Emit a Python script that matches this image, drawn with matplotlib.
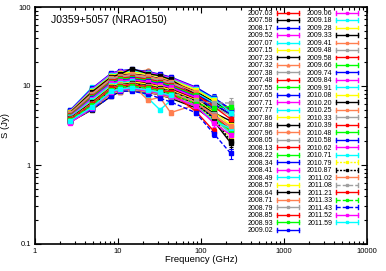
import numpy as np
import matplotlib
matplotlib.use('Agg')
import matplotlib.pyplot as plt
from matplotlib.lines import Line2D
from matplotlib.legend_handler import HandlerLine2D
from matplotlib.ticker import LogLocator, NullFormatter

plt.rcParams['font.family'] = ['Liberation Sans', 'DejaVu Sans']

nan = np.nan

# observing frequencies (GHz)
freqs = [2.64, 4.85, 8.35, 10.45, 14.6, 23.05, 32.0, 43.0, 86.2, 142.3, 228.4]

# epochs, in legend order
epochs = ['2007.03', '2007.58', '2008.17', '2009.52', '2007.07', '2007.15', '2007.23', '2007.32', '2007.38', '2007.48',
          '2007.55', '2007.65', '2007.71', '2007.77', '2007.86', '2007.88', '2007.96', '2008.05', '2008.13', '2008.22',
          '2008.34', '2008.41', '2008.49', '2008.57', '2008.64', '2008.71', '2008.79', '2008.85', '2008.93', '2009.02',
          '2009.06', '2009.18', '2009.28', '2009.33', '2009.41', '2009.48', '2009.58', '2009.66', '2009.74', '2009.84',
          '2009.91', '2010.08', '2010.20', '2010.25', '2010.33', '2010.39', '2010.48', '2010.58', '2010.62', '2010.71',
          '2010.79', '2010.87', '2011.02', '2011.08', '2011.21', '2011.33', '2011.43', '2011.52', '2011.59']

# flux density (Jy) per frequency, one value per epoch
s_2_64 = [4.0, 4.3, 4.8, 3.7, 4.9, 4.0, 4.1, 4.1, 4.2, 4.2,
          4.3, 4.4, 4.4, 4.5, 4.5, 4.5, 4.6, 4.7, 4.8, 4.8,
          4.9, 4.8, 4.7, 4.7, 4.6, 4.5, 4.4, 4.3, 4.2, 4.1,
          4.1, 4.0, 3.9, 3.9, 3.8, 3.8, 3.7, 3.7, 3.6, 3.6,
          3.6, 3.5, 3.5, 3.5, 3.6, 3.6, 3.6, 3.7, 3.6, 3.6,
          3.7, 3.7, 3.8, 3.8, 3.8, 3.7, 3.5, 3.4, 3.6]
s_4_85 = [6.6, 7.4, 8.9, 5.7, 9.6, 6.5, 6.7, 6.9, 7.0, 7.2,
          7.3, 7.6, 7.7, 7.9, 8.0, 8.2, 8.5, 8.8, 8.9, 9.1,
          9.3, 9.1, 8.8, 8.6, 8.4, 8.0, 7.7, 7.4, 7.2, 7.0,
          6.9, 6.6, 6.3, 6.2, 6.0, 5.8, 5.7, 5.6, 5.5, 5.3,
          5.2, 5.1, 5.0, 5.1, 5.2, 5.3, 5.4, 5.5, 5.5, 5.3,
          5.6, 5.7, 5.9, 6.0, 5.9, 5.7, 5.1, 5.3, 5.4]
s_8_35 = [10.4, 11.7, 14.0, 9.0, 10.6, 10.2, 10.6, 10.8, 11.1, 11.3,
          11.5, 12.0, 12.2, 12.4, 12.6, 12.9, 13.3, 13.8, 14.0, 14.2,
          14.6, 14.3, 13.9, 13.5, 13.1, 12.6, 12.2, 11.7, 11.3, 11.0,
          10.8, 10.4, 9.9, 9.7, 9.5, 9.2, 9.0, 8.8, 8.6, 8.5,
          8.3, 8.1, 7.5, 8.0, 8.2, 8.4, 8.6, 8.7, 8.6, 8.5,
          8.8, 9.0, 9.3, 9.5, 9.4, 9.0, 7.4, 8.4, 8.6]
s_10_45 = [11.0, 12.5, 14.9, 9.6, 10.8, 10.8, 11.3, 11.5, 11.8, 12.1,
           12.3, 12.8, 13.0, 13.2, 13.4, 13.7, 14.2, 14.7, 15.0, 15.2,
           15.6, 15.3, 14.8, 14.4, 14.0, 13.4, 13.0, 12.5, 12.1, 11.7,
           11.5, 11.0, 10.6, 10.4, 10.1, 9.8, 9.6, 9.4, 9.2, 9.0,
           8.8, 8.6, 8.4, 8.5, 8.7, 8.9, 9.1, 9.3, 9.2, 9.0,
           9.4, 9.6, 9.9, 10.2, 10.0, 9.6, 8.6, 8.9, 9.1]
s_14_6 = [11.5, 13.0, 15.5, 10.0, 11.0, 11.3, 11.8, 12.0, 12.3, 12.6,
          12.8, 13.3, 13.5, 13.8, 14.0, 14.3, 14.8, 15.3, 15.6, 15.8,
          16.2, 15.9, 15.4, 15.0, 16.6, 14.0, 13.5, 13.0, 12.6, 12.2,
          12.0, 11.5, 11.0, 10.8, 10.5, 10.2, 10.0, 9.8, 9.6, 9.4,
          9.2, 9.0, 8.8, 8.9, 9.1, 9.3, 9.5, 9.7, 9.6, 9.4,
          9.8, 10.0, 10.3, 10.6, 10.4, 10.0, 8.6, 9.3, 9.5]
s_23_05 = [10.8, 12.2, 14.6, 9.4, 10.3, 10.6, 11.1, 11.3, 11.6, 11.8,
           12.0, 12.5, 12.7, 13.0, 13.2, 13.4, 16.0, 14.4, 14.7, 14.9,
           15.2, 14.9, 14.5, 14.1, 14.3, 13.2, 12.7, 12.2, 11.8, 11.5,
           11.3, 7.0, 10.3, 10.2, 6.6, 9.6, 9.4, 9.2, 9.0, 8.8,
           8.6, 8.5, 8.3, 8.4, 8.6, 8.7, 8.9, 9.1, 9.0, 8.8,
           9.2, 9.4, 9.7, 10.0, 9.8, 9.4, 7.9, 8.7, 8.9]
s_32 = [10.0, 11.3, 13.5, 8.7, 9.6, 9.8, 10.3, 10.4, 10.7, 11.0,
        11.1, 11.6, 11.7, 12.0, 12.2, 12.4, 12.9, 13.3, 13.6, 13.7,
        14.1, 13.8, 13.4, 13.1, 13.5, 12.2, 11.7, 11.3, 11.0, 10.6,
        10.4, 5.0, 9.6, 9.4, 7.2, 8.9, 8.7, 8.5, 8.4, 8.2,
        8.0, 7.8, 7.7, 7.7, 7.9, 8.1, 8.3, 8.4, 8.4, 8.2,
        8.5, 8.7, 9.0, 9.2, 9.0, 8.7, 7.0, 8.1, 8.3]
s_43 = [9.2, 10.4, 12.4, 8.0, 8.8, 9.0, 9.4, 9.6, 9.8, 10.1,
        10.2, 10.6, 10.8, 11.0, 11.2, 11.4, 11.8, 12.2, 12.5, 12.6,
        13.0, 12.7, 12.3, 12.0, 12.1, 11.2, 10.8, 10.4, 10.1, 9.8,
        9.6, 6.5, 8.8, 8.6, 4.6, 8.2, 8.0, 7.8, 7.7, 7.5,
        7.4, 7.2, 7.0, 7.1, 7.3, 7.4, 7.6, 7.8, 7.7, 7.5,
        7.8, 8.0, 8.2, 8.5, 8.3, 8.0, 6.3, 7.4, 7.6]
s_86 = [6.9, 7.8, 9.3, 6.0, nan, nan, 7.1, 7.2, 7.4, 7.6,
        nan, 8.0, 8.1, 8.3, nan, 8.6, 8.9, 9.2, 9.4, nan,
        9.7, 9.5, 9.2, 9.0, 7.8, 8.4, nan, 7.8, 7.6, 7.3,
        7.2, nan, 6.6, 6.5, 5.8, 6.1, 6.0, nan, 5.8, 5.6,
        5.5, 5.4, 5.3, nan, 5.5, 5.6, 5.7, 5.8, 5.8, 5.6,
        5.9, 6.0, 6.2, 6.4, 4.8, 6.0, 4.6, 5.6, nan]
s_142 = [5.2, 5.9, 7.0, nan, nan, nan, 5.3, nan, 5.5, 5.7,
         nan, 6.0, nan, 6.2, nan, 6.4, 6.7, nan, 7.0, nan,
         7.1, nan, 6.9, 6.6, 4.6, nan, nan, 5.5, nan, 5.2,
         nan, nan, 4.7, 4.5, nan, 4.4, 4.2, nan, 4.0, nan,
         3.8, 3.7, 3.6, nan, 3.8, nan, 4.0, 4.1, nan, 3.6,
         3.8, 3.9, 4.2, 6.1, 2.7, 5.3, 2.5, 3.4, nan]
s_228 = [nan, 4.3, 5.0, nan, nan, nan, nan, nan, 4.2, nan,
         nan, 4.4, nan, nan, nan, 4.7, nan, nan, 4.9, nan,
         5.1, nan, 4.6, nan, 3.6, nan, nan, 3.8, nan, nan,
         nan, nan, 3.2, nan, nan, 3.0, 2.8, nan, nan, nan,
         2.5, nan, 1.9, nan, 2.6, nan, 2.7, nan, nan, 2.9,
         2.2, 2.0, 3.1, 6.1, nan, 5.5, 1.4, 2.4, nan]

# relative flux error (%) per frequency
err_pct = [2, 2, 2, 3, 3, 4, 5, 7, 6, 10, 15]

table = np.array([s_2_64, s_4_85, s_8_35, s_10_45, s_14_6, s_23_05,
                  s_32, s_43, s_86, s_142, s_228]).T
f_arr = np.array(freqs)
e_arr = np.array(err_pct) / 100.0

# gnuplot-like line colours
cycle = ['#ff00ff', '#00ffff', '#ffff00', '#000000', '#ff7f50',
         '#a0a0a0', '#ff0000', '#00ff00', '#0000ff']
colors = ['#ff0000', '#000000', '#0000ff'] + [cycle[(i - 3) % 9] for i in range(3, len(epochs))]
markers = ['s'] * len(epochs)
for i, m in {7: '^', 9: 'v', 11: 'o', 15: 'o', 16: 'o', 21: 'o'}.items():
    markers[i] = m
lstyles = ['-'] * len(epochs)
for ep in ['2010.79', '2010.87']:
    lstyles[epochs.index(ep)] = (0, (1.5, 1))
for ep in ['2011.08', '2011.33', '2011.43']:
    lstyles[epochs.index(ep)] = (0, (3, 1.5))


class CapHandler(HandlerLine2D):
    # legend sample drawn as |--o--| like gnuplot errorbars
    def create_artists(self, legend, orig_handle, xdescent, ydescent,
                       width, height, fontsize, trans):
        arts = super().create_artists(legend, orig_handle, xdescent, ydescent,
                                      width, height, fontsize, trans)
        yc = (height - ydescent) / 2
        h = 0.4 * height
        for x in (-xdescent, -xdescent + width):
            cap = Line2D([x, x], [yc - h, yc + h], color=orig_handle.get_color(),
                         lw=orig_handle.get_linewidth())
            cap.set_transform(trans)
            arts.append(cap)
        return arts


fig = plt.figure(figsize=(3.86, 2.71), dpi=100)
ax = fig.add_axes([35 / 386, 27 / 271, 332 / 386, 237 / 271])

handles = []
for i, ep in enumerate(epochs):
    y = table[i]
    ok = np.isfinite(y)
    eb = ax.errorbar(f_arr[ok], y[ok], yerr=y[ok] * e_arr[ok], color=colors[i],
                     marker=markers[i], ms=2.2, lw=1.0, ls=lstyles[i],
                     elinewidth=0.8, capsize=1.5, capthick=0.8)
    handles.append(eb[0])

ax.set_xscale('log')
ax.set_yscale('log')
ax.set_xlim(1, 10000)
ax.set_ylim(0.1, 100)
ax.set_xticks([1, 10, 100, 1000, 10000])
ax.set_xticklabels(['1', '10', '100', '1000', '10000'])
ax.set_yticks([0.1, 1, 10, 100])
ax.set_yticklabels(['0.1', '1', '10', '100'])
ax.xaxis.set_minor_locator(LogLocator(base=10, subs=range(2, 10)))
ax.yaxis.set_minor_locator(LogLocator(base=10, subs=range(2, 10)))
ax.xaxis.set_minor_formatter(NullFormatter())
ax.yaxis.set_minor_formatter(NullFormatter())
ax.tick_params(which='both', direction='in', top=True, right=True,
               labelsize=5.5, width=0.8, pad=3)
ax.tick_params(which='major', length=4)
ax.tick_params(which='minor', length=2)
for sp in ax.spines.values():
    sp.set_linewidth(1.2)

ax.set_xlabel('Frequency (GHz)', fontsize=6.8)
ax.set_ylabel('S (Jy)', fontsize=6.8)
ax.xaxis.set_label_coords(0.5, -0.045)
ax.yaxis.set_label_coords(-0.075, 0.5)

ax.text(0.048, 0.945, 'J0359+5057 (NRAO150)', transform=ax.transAxes,
        fontsize=7.6, va='center', ha='left')

ax.legend(handles=handles, labels=epochs, ncol=2, loc='upper right',
          bbox_to_anchor=(358 / 386, 1 - 10 / 271), bbox_transform=fig.transFigure,
          frameon=False, fontsize=5, markerfirst=False, handlelength=3.2,
          handletextpad=0.5, columnspacing=1.1, labelspacing=0.07,
          borderpad=0, borderaxespad=0, numpoints=1, markerscale=0.9,
          handler_map={Line2D: CapHandler()})

fig.savefig('out.png', dpi=100)
